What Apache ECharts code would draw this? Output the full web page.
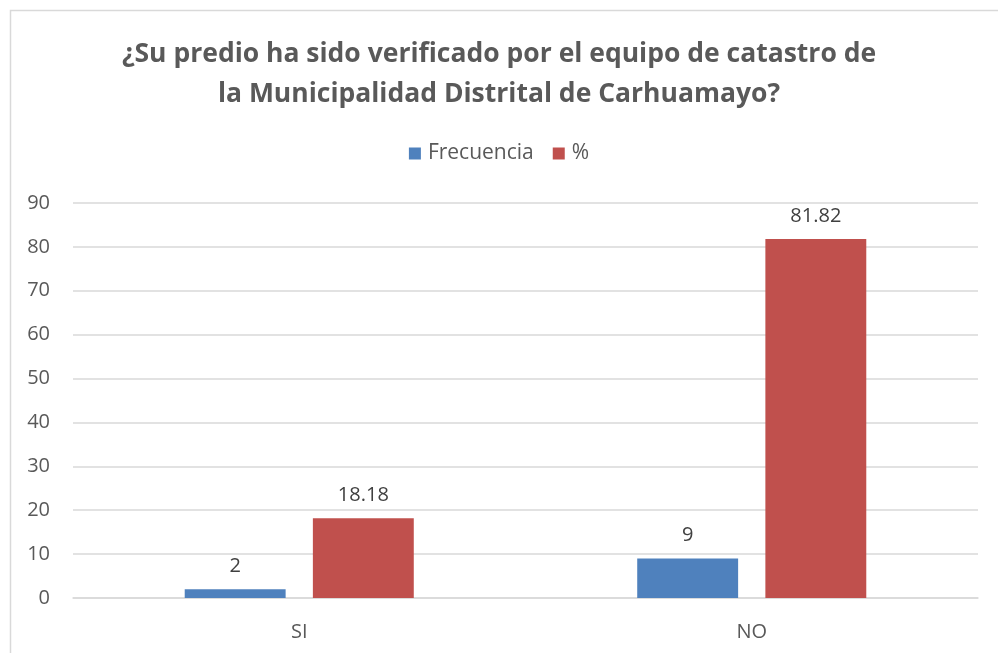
<!DOCTYPE html>
<html>
<head>
<meta charset="utf-8">
<script src="https://cdn.jsdelivr.net/npm/echarts@6/dist/echarts.min.js"></script>
<style>
  html, body { margin: 0; padding: 0; background: #fff; }
  #main { width: 998px; height: 653px; }
</style>
</head>
<body>
<div id="main"></div>
<script>
var categories = ['SI', 'NO'];
var frecuencia = [2, 9];
var porcentaje = [18.18, 81.82];
var yTicks = [0, 90, 10];

var chart = echarts.init(document.getElementById('main'));
var font = '"Open Sans", "Liberation Sans", sans-serif';
var option = {
    backgroundColor: '#fff',
    textStyle: { fontFamily: font },
    graphic: [{
        type: 'rect',
        shape: { x: 10.5, y: 10.5, width: 1200, height: 900 },
        style: { fill: 'none', stroke: '#d9d9d9', lineWidth: 1.5 },
        silent: true
    }],
    title: {
        text: '¿Su predio ha sido verificado por el equipo de catastro de\nla Municipalidad Distrital de Carhuamayo?',
        left: 'center',
        top: 29,
        textStyle: {
            fontFamily: font,
            fontSize: 26.5,
            fontWeight: 'bold',
            color: '#595959',
            lineHeight: 40,
            align: 'center'
        }
    },
    legend: {
        data: ['Frecuencia', '%'],
        top: 138,
        left: 'center',
        itemWidth: 12,
        itemHeight: 12,
        itemGap: 19,
        icon: 'rect',
        textStyle: { fontFamily: font, fontSize: 21, color: '#595959', padding: [0, 0, 0, 2] }
    },
    grid: { left: 73, right: 20, top: 203, bottom: 55 },
    xAxis: {
        type: 'category',
        data: categories,
        axisLine: { lineStyle: { color: '#d9d9d9', width: 1.5 } },
        axisTick: { show: false },
        axisLabel: { fontFamily: font, fontSize: 20, color: '#595959', margin: 24 }
    },
    yAxis: {
        type: 'value',
        min: yTicks[0],
        max: yTicks[1],
        interval: yTicks[2],
        axisLine: { show: false },
        axisTick: { show: false },
        axisLabel: { fontFamily: font, fontSize: 20, color: '#595959', margin: 23 },
        splitLine: { lineStyle: { color: '#d9d9d9', width: 1.5 } }
    },
    series: [{
        name: 'Frecuencia',
        type: 'bar',
        data: frecuencia,
        barWidth: '22.3%',
        barGap: '27%',
        itemStyle: { color: '#4f81bd' },
        label: { show: true, position: 'top', distance: 13, fontFamily: font, fontSize: 20, color: '#404040' }
    }, {
        name: '%',
        type: 'bar',
        data: porcentaje,
        barWidth: '22.3%',
        itemStyle: { color: '#c0504d' },
        label: { show: true, position: 'top', distance: 13, fontFamily: font, fontSize: 20, color: '#404040' }
    }]
};
chart.setOption(option);
</script>
</body>
</html>
